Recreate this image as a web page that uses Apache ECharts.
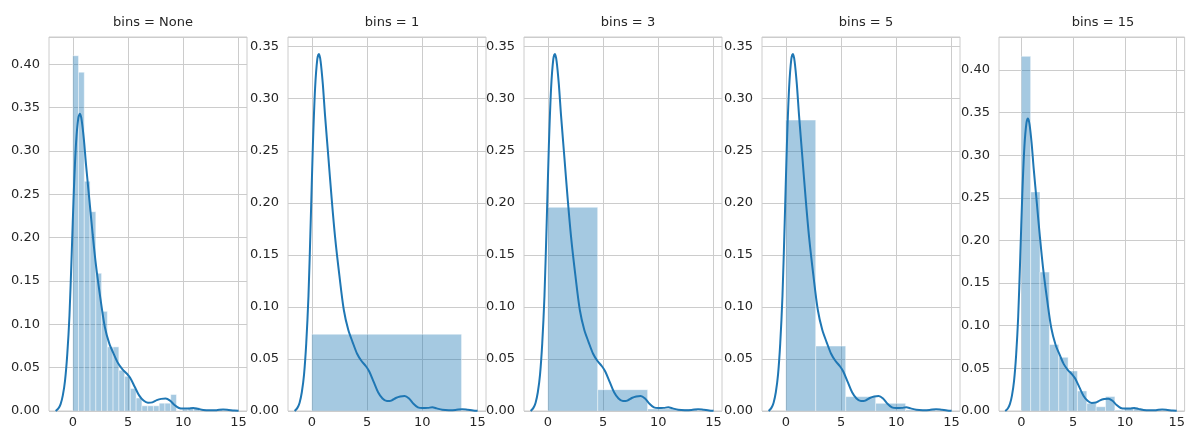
<!DOCTYPE html>
<html>
<head>
<meta charset="utf-8">
<script src="https://cdn.jsdelivr.net/npm/echarts@6/dist/echarts.min.js"></script>
<style>
html,body{margin:0;padding:0;background:#fff;}
#chart{width:1188px;height:431px;}
</style>
</head>
<body>
<div id="chart"></div>
<script>
// ---- data ----
var titles = ['bins = None', 'bins = 1', 'bins = 3', 'bins = 5', 'bins = 15'];
var dataMin = 0.0;
var dataMax = 13.55;
var histNone = [0.410, 0.391, 0.265, 0.230, 0.159, 0.115, 0.074, 0.074, 0.047, 0.040, 0.026, 0.015, 0.006,
                0.006, 0.006, 0.009, 0.009, 0.019, 0.0, 0.002, 0.004, 0.004, 0.0, 0.0, 0.0, 0.002];
var hist1 = [0.0738];
var hist3 = [0.1957, 0.0205, 0.0020];
var hist5 = [0.2795, 0.0624, 0.0138, 0.0074, 0.0011];
var hist15 = [0.416, 0.257, 0.163, 0.078, 0.063, 0.047, 0.0235, 0.009, 0.005, 0.017, 0.001, 0.003, 0.003, 0.0, 0.001];
var kdeX = [-1.55, -1.3, -1.1, -0.9, -0.7, -0.5, -0.3, -0.1, 0.1, 0.3, 0.5, 0.65, 0.8, 1.0, 1.2, 1.5, 1.8, 2.1, 2.5,
            2.9, 3.3, 3.7, 4.1, 4.5, 4.9, 5.2, 5.6, 6.0, 6.4, 6.8, 7.2, 7.6, 8.0, 8.4, 8.8, 9.2, 9.6, 10.0, 10.5,
            10.9, 11.3, 11.8, 12.4, 13.0, 13.6, 14.1, 14.6, 15.0];
var kdeY = [0.000, 0.003, 0.008, 0.018, 0.035, 0.065, 0.110, 0.180, 0.255, 0.310, 0.338, 0.343, 0.336, 0.314, 0.284,
            0.244, 0.204, 0.168, 0.130, 0.097, 0.078, 0.066, 0.055, 0.048, 0.043, 0.038, 0.028, 0.018, 0.012, 0.0095,
            0.010, 0.0125, 0.014, 0.0145, 0.012, 0.007, 0.0035, 0.0028, 0.003, 0.0035, 0.0025, 0.0012, 0.0008, 0.001,
            0.0018, 0.0012, 0.0005, 0.0002];
var xTicks = [0, 5, 10, 15];
var yMax = [0.4316, 0.3593, 0.3593, 0.3593, 0.4387];

// ---- build chart ----
var hists = [histNone, hist1, hist3, hist5, hist15];
var lefts = [49, 288, 524, 762, 999];
var plotW = 198, plotTop = 37, plotH = 374;
var font = 'DejaVu Sans, Verdana, sans-serif';
var txt = '#262626';

function binRows(h) {
  var w = (dataMax - dataMin) / h.length;
  return h.map(function (v, i) { return [dataMin + i * w, dataMin + (i + 1) * w, v]; });
}
var kdeData = kdeX.map(function (x, i) { return [x, kdeY[i]]; });

var grids = [], xAxes = [], yAxes = [], series = [], titleArr = [];
for (var k = 0; k < 5; k++) {
  grids.push({left: lefts[k], top: plotTop, width: plotW, height: plotH, show: true,
              borderColor: '#cccccc', borderWidth: 1, containLabel: false});
  titleArr.push({text: titles[k], left: lefts[k] + plotW / 2, top: 11, textAlign: 'center',
                 textStyle: {fontFamily: font, fontSize: 13, fontWeight: 'normal', color: txt}});
  xAxes.push({type: 'value', gridIndex: k, min: -2.15, max: 15.76,
              axisLine: {show: false},
              axisTick: {show: false, customValues: xTicks},
              axisLabel: {customValues: xTicks, fontFamily: font, fontSize: 13, color: txt, margin: 5},
              splitLine: {show: true, lineStyle: {color: '#cccccc', width: 1}}});
  yAxes.push({type: 'value', gridIndex: k, min: 0, max: yMax[k], interval: 0.05,
              axisLine: {show: false}, axisTick: {show: false},
              axisLabel: {showMaxLabel: false, fontFamily: font, fontSize: 13, color: txt, margin: 9,
                          formatter: function (v) { return v.toFixed(2); }},
              splitLine: {show: true, lineStyle: {color: '#cccccc', width: 1}}});
  series.push({type: 'custom', xAxisIndex: k, yAxisIndex: k, data: binRows(hists[k]),
               encode: {x: [0, 1], y: 2}, clip: true, silent: true,
               renderItem: function (params, api) {
                 var p0 = api.coord([api.value(0), api.value(2)]);
                 var p1 = api.coord([api.value(1), 0]);
                 return {type: 'rect',
                         shape: {x: p0[0], y: p0[1], width: p1[0] - p0[0], height: p1[1] - p0[1]},
                         style: {fill: 'rgba(31,119,180,0.4)', stroke: 'rgba(255,255,255,0.45)', lineWidth: 1}};
               }});
  series.push({type: 'line', xAxisIndex: k, yAxisIndex: k, data: kdeData, smooth: 0.3,
               showSymbol: false, silent: true, clip: true,
               lineStyle: {color: '#1f77b4', width: 2}});
}

var chart = echarts.init(document.getElementById('chart'), null, {renderer: 'canvas'});
chart.setOption({
  animation: false,
  backgroundColor: '#ffffff',
  title: titleArr,
  grid: grids,
  xAxis: xAxes,
  yAxis: yAxes,
  series: series
});
</script>
</body>
</html>
